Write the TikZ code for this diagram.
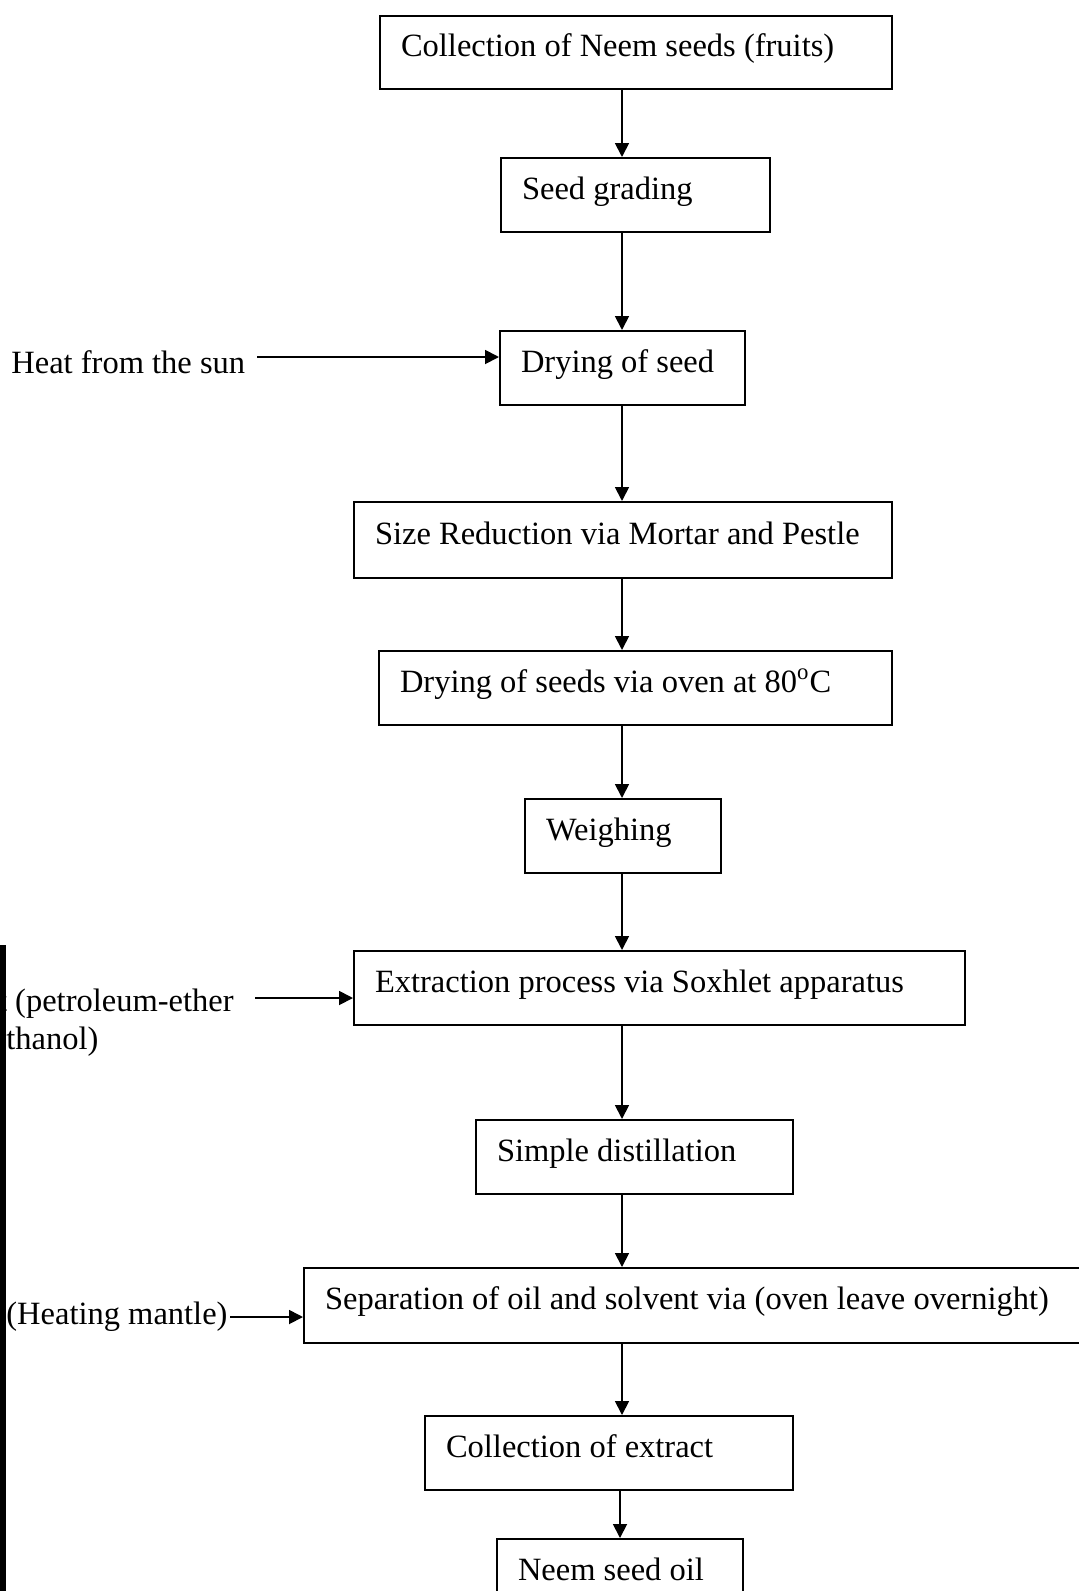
\documentclass[tikz,border=0pt]{standalone}
\usepackage{fontspec}
\setmainfont{Liberation Serif}
\usetikzlibrary{arrows.meta}
\tikzset{
  box/.style={draw, line width=1pt, anchor=north west, inner xsep=10.5pt, inner ysep=0pt,
    align=flush left, text height=0.7em, text depth=0.27em, font=\fontsize{16.25}{19}\selectfont},
  lbl/.style={inner sep=0pt, font=\fontsize{16.25}{19}\selectfont},
  arr/.style={line width=0.9pt, -{Triangle[length=7pt,width=7pt]}},
}
\begin{document}
\begin{tikzpicture}[x=0.5pt,y=-0.5pt]
\clip (0,0) rectangle (1079,1591);
\fill[white] (0,0) rectangle (1079,1591);
% boxes
\node[box, text width=235pt, minimum height=36.5pt] (b1) at (379,15) {Collection of Neem seeds (fruits)};
\node[box, text width=113.5pt, minimum height=37pt] (b2) at (500,157) {Seed grading};
\node[box, text width=101.5pt, minimum height=37pt] (b3) at (499,330) {Drying of seed};
\node[box, text width=248pt, minimum height=38pt] (b4) at (353,501) {Size Reduction via Mortar and Pestle};
\node[box, text width=235.5pt, minimum height=37pt] (b5) at (378,650) {Drying of seeds via oven at 80\textsuperscript{o}C};
\node[box, text width=77pt, minimum height=37pt] (b6) at (524,798) {Weighing};
\node[box, text width=284.5pt, minimum height=37pt] (b7) at (353,950) {Extraction process via Soxhlet apparatus};
\node[box, text width=137.5pt, minimum height=37pt] (b8) at (475,1119) {Simple distillation};
\node[box, text width=377.5pt, minimum height=37.5pt] (b9) at (303,1267) {Separation of oil and solvent via (oven leave overnight)};
\node[box, text width=163pt, minimum height=37pt] (b10) at (424,1415) {Collection of extract};
\node[box, text width=102pt, minimum height=37pt] (b11) at (496,1538) {Neem seed oil};
% side labels
\node[lbl, anchor=base west] (heat) at (11,373) {Heat from the sun};
\node[lbl, anchor=base east] (solv1) at (234,1011) {t (petroleum-ether};
\node[lbl, anchor=base west] (solv2) at (6,1049) {thanol)};
\node[lbl, anchor=base west] (mantle) at (6,1324) {(Heating mantle)};
% scan bar at left edge
\fill[black] (0,945) rectangle (6,1591);
% vertical connectors
\coordinate (vx) at (622,0);
\coordinate (vx2) at (620,0);
\draw[arr] (b1.south -| vx) -- (b2.north -| vx);
\draw[arr] (b2.south -| vx) -- (b3.north -| vx);
\draw[arr] (b3.south -| vx) -- (b4.north -| vx);
\draw[arr] (b4.south -| vx) -- (b5.north -| vx);
\draw[arr] (b5.south -| vx) -- (b6.north -| vx);
\draw[arr] (b6.south -| vx) -- (b7.north -| vx);
\draw[arr] (b7.south -| vx) -- (b8.north -| vx);
\draw[arr] (b8.south -| vx) -- (b9.north -| vx);
\draw[arr] (b9.south -| vx) -- (b10.north -| vx);
\draw[arr] (b10.south -| vx2) -- (b11.north -| vx2);
% horizontal connectors
\coordinate (h1) at (257,357);
\coordinate (h2) at (255,998);
\coordinate (h3) at (230,1317);
\draw[arr] (h1) -- (h1 -| b3.west);
\draw[arr] (h2) -- (h2 -| b7.west);
\draw[arr] (h3) -- (h3 -| b9.west);
\end{tikzpicture}
\end{document}
